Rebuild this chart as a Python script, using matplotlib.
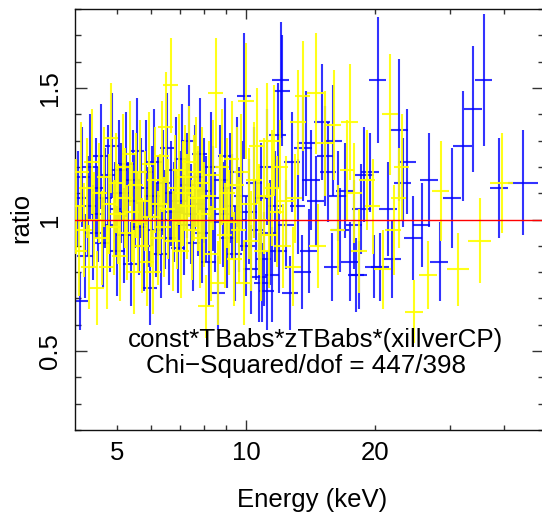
import matplotlib
matplotlib.use("Agg")
import matplotlib.pyplot as plt
from matplotlib.ticker import FixedLocator, FixedFormatter

plt.rcParams['font.family'] = ['Liberation Sans', 'DejaVu Sans']

# ---------------- data ----------------
blue_E = [4.05, 4.10, 4.15, 4.22, 4.28, 4.33, 4.40, 4.46, 4.52, 4.58, 4.63, 4.70, 4.76, 4.82, 4.88, 4.94,
          5.00, 5.06, 5.12, 5.19, 5.25, 5.31, 5.38, 5.44, 5.50, 5.57, 5.63, 5.70, 5.77, 5.84, 5.91, 5.97,
          6.04, 6.11, 6.18, 6.25, 6.32, 6.40, 6.47, 6.55, 6.62, 6.70, 6.78, 6.86, 6.94,
          7.02, 7.10, 7.18, 7.27, 7.35, 7.44, 7.53, 7.62, 7.71, 7.80, 7.89, 7.98,
          8.08, 8.18, 8.28, 8.38, 8.48, 8.62, 8.72, 8.83, 8.94, 9.05, 9.17, 9.29, 9.41, 9.53, 9.65, 9.78, 9.90,
          10.03, 10.16, 10.30, 10.44, 10.58, 10.72, 10.87, 10.90, 11.02, 11.17, 11.20, 11.35, 11.52, 11.70,
          11.86, 11.95, 12.05, 12.15, 12.40, 12.70, 12.79, 13.20, 13.50, 13.60, 13.81, 14.00, 14.20, 14.55,
          15.03, 15.30, 15.55, 15.85, 16.00, 16.40, 16.60, 17.00, 17.50, 17.90, 18.10, 18.40, 18.60, 18.90,
          19.50, 19.90, 20.30, 20.60, 21.50, 21.90, 22.80, 23.20, 23.80, 24.60, 25.70, 26.80, 28.30, 30.30,
          32.10, 33.90, 35.90, 39.00, 44.40]
blue_dE = [0.18] * 16 + [0.22] * 16 + [0.26] * 13 + [0.30] * 12 + [0.34] * 9 + [0.38] * 8 + \
          [0.45] * 14 + [0.55] * 8 + [0.65] * 10 + [0.80] * 8 + [0.95] * 5 + \
          [1.00, 1.05, 1.05, 1.10, 1.10, 1.15, 1.16, 1.20, 1.28, 1.35, 1.45, 1.60, 1.63, 1.70, 1.90, 3.60]
blue_R = [1.08, 0.69, 1.16, 0.86, 1.05, 1.20, 0.95, 1.12, 1.02, 1.24, 0.91, 1.08, 1.17, 0.98, 1.28, 1.04,
          0.88, 1.19, 1.10, 0.94, 1.21, 1.03, 0.83, 1.15, 1.07, 1.26, 0.97, 1.12, 0.90, 1.18, 1.01, 0.74,
          1.09, 1.22, 0.96, 1.05, 0.87, 1.14, 1.00, 1.27, 0.93, 1.10, 1.03, 1.19, 0.89,
          1.07, 1.23, 0.98, 1.13, 1.30, 1.02, 0.91, 1.16, 1.06, 1.25, 0.95, 1.11,
          1.04, 0.84, 1.20, 1.08, 0.99, 0.72, 1.15, 1.02, 1.24, 0.93, 1.12, 1.05, 0.87, 1.18, 1.00, 1.09, 1.47,
          0.90, 1.03, 0.81, 1.14, 0.96, 0.78, 1.08, 0.76, 0.85, 1.20, 0.73, 0.95, 0.79, 1.05,
          1.32, 0.88, 1.53, 1.49, 0.98, 0.72, 1.22, 1.05, 0.80, 1.27, 1.29, 0.88, 1.15, 1.07,
          1.37, 1.24, 1.18, 0.82, 1.30, 1.09, 0.96, 1.11, 0.84, 0.98, 0.79, 0.79, 1.04, 1.17,
          1.18, 0.82, 1.53, 0.82, 1.04, 0.85, 1.34, 1.14, 1.22, 0.93, 0.98, 1.15, 0.84, 1.08,
          1.28, 1.42, 1.53, 1.12, 1.14]
blue_err = [0.18, 0.11, 0.19, 0.16, 0.19, 0.20, 0.18, 0.19, 0.18, 0.20, 0.17, 0.19, 0.19, 0.18, 0.20, 0.18,
            0.17, 0.19, 0.19, 0.18, 0.20, 0.19, 0.16, 0.19, 0.18, 0.20, 0.18, 0.19, 0.17, 0.20, 0.19, 0.14,
            0.19, 0.20, 0.18, 0.19, 0.17, 0.20, 0.19, 0.21, 0.18, 0.20, 0.19, 0.20, 0.17,
            0.19, 0.21, 0.19, 0.20, 0.21, 0.19, 0.18, 0.20, 0.20, 0.21, 0.19, 0.20,
            0.20, 0.17, 0.21, 0.20, 0.19, 0.14, 0.21, 0.20, 0.22, 0.19, 0.21, 0.20, 0.18, 0.21, 0.20, 0.21, 0.24,
            0.19, 0.20, 0.17, 0.21, 0.19, 0.17, 0.21, 0.15, 0.18, 0.22, 0.15, 0.20, 0.18, 0.21,
            0.20, 0.16, 0.22, 0.21, 0.17, 0.14, 0.19, 0.18, 0.14, 0.20, 0.20, 0.16, 0.19, 0.17,
            0.22, 0.19, 0.19, 0.13, 0.21, 0.17, 0.16, 0.18, 0.15, 0.17, 0.14, 0.13, 0.17, 0.18,
            0.15, 0.12, 0.24, 0.13, 0.18, 0.15, 0.27, 0.17, 0.20, 0.16, 0.16, 0.18, 0.15, 0.19,
            0.21, 0.24, 0.25, 0.19, 0.20]

yellow_E = [4.02, 4.08, 4.13, 4.19, 4.25, 4.31, 4.37, 4.43, 4.49, 4.55, 4.61, 4.67, 4.73, 4.79, 4.85, 4.91, 4.97,
            5.03, 5.09, 5.16, 5.22, 5.28, 5.35, 5.41, 5.47, 5.54, 5.60, 5.67, 5.73, 5.80, 5.87, 5.94,
            6.01, 6.08, 6.15, 6.22, 6.29, 6.36, 6.44, 6.51, 6.58, 6.67, 6.74, 6.82, 6.90, 6.98,
            7.06, 7.14, 7.22, 7.30, 7.38, 7.47, 7.55, 7.64, 7.72, 7.81, 7.90, 7.99,
            8.08, 8.18, 8.28, 8.38, 8.50, 8.60, 8.70, 8.81, 8.92, 9.03, 9.15, 9.27, 9.39, 9.51, 9.63, 9.76, 9.88,
            10.01, 10.15, 10.29, 10.43, 10.60, 10.72, 10.87, 11.02, 11.18, 11.34, 11.50, 11.65, 11.84,
            12.01, 12.19, 12.37, 12.90, 13.00, 13.23, 13.57, 14.57, 14.70, 15.30, 16.05, 16.40, 17.20, 17.50,
            17.90, 18.40, 19.20, 19.80, 20.90, 21.70, 22.10, 22.70, 23.10, 24.70, 26.60, 28.50, 31.30, 35.20,
            39.60]
yellow_dE = [0.18] * 17 + [0.22] * 15 + [0.26] * 14 + [0.30] * 12 + [0.34] * 9 + [0.38] * 8 + \
            [0.45] * 13 + [0.55] * 7 + [0.65] * 6 + [0.80] * 5 + [0.95] * 5 + \
            [1.20, 1.25, 1.35, 1.90, 2.20, 2.50]
yellow_R = [1.05, 0.88, 1.18, 0.96, 1.12, 0.82, 1.22, 1.00, 0.74, 1.10, 0.93, 1.16, 0.82, 1.06, 1.31, 0.97, 1.14,
            1.02, 0.86, 1.20, 1.08, 0.95, 1.25, 1.03, 0.80, 1.13, 0.99, 1.18, 0.90, 1.07, 0.84, 1.21,
            1.01, 0.80, 1.15, 0.93, 1.06, 1.24, 0.97, 1.35, 1.04, 1.51, 0.92, 1.12, 1.00, 1.19,
            0.88, 1.10, 1.16, 1.05, 1.22, 0.96, 1.12, 1.18, 1.08, 0.93, 1.14, 1.02,
            0.67, 1.09, 0.87, 1.17, 1.48, 0.76, 1.04, 1.20, 0.94, 1.10, 0.99, 1.23, 0.85, 1.13, 0.96, 1.18, 0.76,
            1.45, 1.06, 0.92, 1.15, 1.28, 1.00, 0.88, 1.09, 1.30, 0.94, 1.12, 1.30, 1.03,
            1.20, 0.90, 1.07, 0.82, 1.08, 1.37, 1.47, 1.48, 0.90, 1.29, 1.36, 0.96, 1.19, 1.37,
            1.10, 0.88, 1.15, 1.05, 0.81, 1.40, 0.96, 1.08, 1.20, 0.65, 0.79, 1.11, 0.81, 0.92,
            1.14]
yellow_err = [0.18, 0.17, 0.19, 0.18, 0.19, 0.16, 0.20, 0.18, 0.14, 0.19, 0.18, 0.19, 0.16, 0.19, 0.21, 0.18, 0.19,
              0.19, 0.17, 0.20, 0.19, 0.18, 0.20, 0.19, 0.16, 0.20, 0.19, 0.20, 0.18, 0.19, 0.17, 0.20,
              0.19, 0.16, 0.20, 0.18, 0.19, 0.21, 0.19, 0.21, 0.19, 0.18, 0.19, 0.20, 0.19, 0.21,
              0.18, 0.20, 0.20, 0.20, 0.21, 0.19, 0.20, 0.21, 0.20, 0.19, 0.21, 0.20,
              0.12, 0.21, 0.18, 0.21, 0.21, 0.16, 0.21, 0.22, 0.20, 0.21, 0.20, 0.22, 0.18, 0.22, 0.20, 0.22, 0.16,
              0.22, 0.21, 0.19, 0.22, 0.22, 0.21, 0.19, 0.22, 0.22, 0.20, 0.22, 0.21, 0.21,
              0.18, 0.16, 0.17, 0.15, 0.17, 0.20, 0.21, 0.23, 0.16, 0.20, 0.21, 0.17, 0.19, 0.22,
              0.19, 0.16, 0.19, 0.18, 0.15, 0.23, 0.17, 0.19, 0.20, 0.12, 0.13, 0.19, 0.14, 0.16,
              0.19]

model_text = "const*TBabs*zTBabs*(xillverCP)"
fit_text = "Chi\u2212Squared/dof = 447/398"

# ---------------- figure ----------------
W, H = 542, 517
fig = plt.figure(figsize=(W / 100, H / 100), dpi=100)
ax = fig.add_axes([75.4 / W, 1 - 430 / H, (543.6 - 75.4) / W, (430 - 9) / H])

ax.errorbar(blue_E, blue_R, xerr=blue_dE, yerr=blue_err, fmt='none',
            ecolor='#0000ff', elinewidth=1.5, capsize=0, alpha=0.8, zorder=2)
ax.errorbar(yellow_E, yellow_R, xerr=yellow_dE, yerr=yellow_err, fmt='none',
            ecolor='#ffff00', elinewidth=1.5, capsize=0, alpha=0.9, zorder=3)
ax.axhline(1.0, color='#ff0000', lw=1.0, zorder=5)

ax.set_xscale('log')
ax.set_xlim(4.0, 49.5)
ax.set_ylim(0.2, 1.8)

ax.xaxis.set_major_locator(FixedLocator([10]))
ax.xaxis.set_major_formatter(FixedFormatter(['10']))
ax.xaxis.set_minor_locator(FixedLocator([5, 6, 7, 8, 9, 20, 30, 40]))
ax.xaxis.set_minor_formatter(FixedFormatter(['5', '', '', '', '', '20', '', '']))

ax.set_yticks([0.5, 1.0, 1.5])
ax.set_yticklabels(['0.5', '1', '1.5'], rotation=90, va='center')
ax.set_yticks([0.2, 0.3, 0.4, 0.6, 0.7, 0.8, 0.9, 1.1, 1.2, 1.3, 1.4, 1.6, 1.7, 1.8], minor=True)

ax.tick_params(axis='both', which='both', direction='in', top=True, right=True,
               color='#333333', width=1.0, labelsize=18.5)
ax.tick_params(axis='x', which='major', length=7.5, pad=8)
ax.tick_params(axis='x', which='minor', length=3.8, pad=8)
ax.tick_params(axis='y', which='major', length=8.5, pad=10)
ax.tick_params(axis='y', which='minor', length=4.3)

for s in ax.spines.values():
    s.set_linewidth(1.0)
    s.set_color('#111111')

fig.text(21.5 / W, 1 - 218 / H, 'ratio', rotation=90, ha='center', va='center', fontsize=18.5)
fig.text(312 / W, 1 - 500 / H, 'Energy (keV)', ha='center', va='center', fontsize=18.5)

fig.text(315.5 / W, 1 - 347 / H, model_text, ha='center', va='baseline', fontsize=18.7)
fig.text(306 / W, 1 - 373 / H, fit_text, ha='center', va='baseline', fontsize=18.7)

fig.savefig('out.png', dpi=100)
